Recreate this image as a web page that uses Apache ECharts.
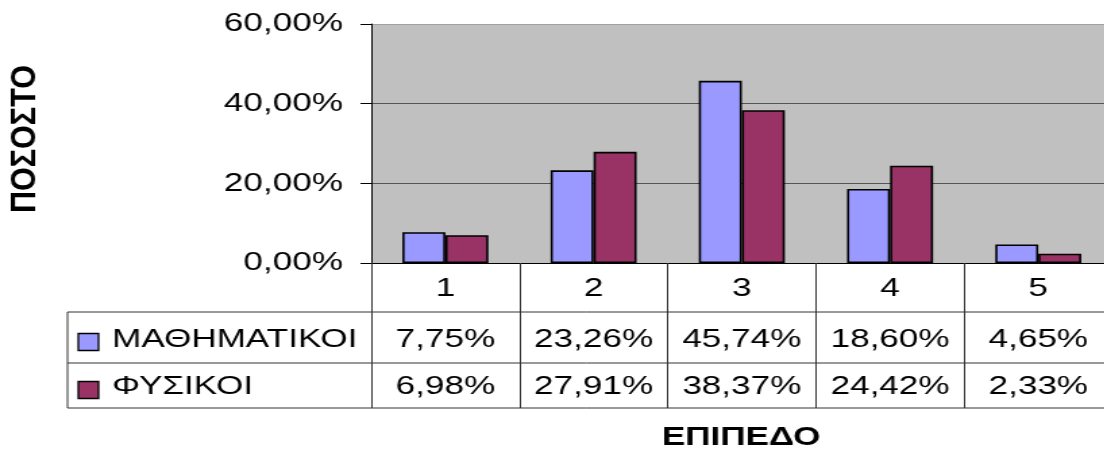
<!DOCTYPE html>
<html><head><meta charset="utf-8">
<script src="https://cdn.jsdelivr.net/npm/echarts@6/dist/echarts.min.js"></script>
<style>
html,body{margin:0;padding:0;overflow:hidden;background:#fff;}
#wrap{width:1104px;height:452px;overflow:hidden;}
#chart{width:818px;height:452px;transform:scaleX(1.35);transform-origin:0 0;}
</style></head><body><div id="wrap"><div id="chart"></div></div>
<script>
const categories = ['1', '2', '3', '4', '5'];
const seriesNames = ['ΜΑΘΗΜΑΤΙΚΟΙ', 'ΦΥΣΙΚΟΙ'];
const mathValues = [7.75, 23.26, 45.74, 18.60, 4.65];
const physValues = [6.98, 27.91, 38.37, 24.42, 2.33];
const yMin = 0, yMax = 60, yStep = 20;
const xTitle = 'ΕΠΙΠΕΔΟ';
const yTitle = 'ΠΟΣΟΣΤΟ';
const colors = ['#9999FF', '#993366'];

const FONT = '"Liberation Sans", Arial, sans-serif';
const fmt = v => v.toFixed(2).replace('.', ',') + '%';

const chart = echarts.init(document.getElementById('chart'), null, {renderer: 'canvas'});
const GRID_TOP = 24, AXIS_Y = 263, ROW1 = 312, ROW2 = 363, ROW3 = 408;
const TABLE_LEFT = 50;

chart.setOption({
  animation: false,
  grid: {left: 275, width: 549, top: GRID_TOP, bottom: 452 - AXIS_Y, show: true,
         outerBoundsMode: 'none', containLabel: false,
         backgroundColor: '#C0C0C0', borderWidth: 0},
  xAxis: {
    type: 'category', data: categories,
    axisLine: {show: true, lineStyle: {color: '#000', width: 1}},
    axisTick: {show: true, length: ROW3 - AXIS_Y, lineStyle: {color: '#333', width: 1}},
    axisLabel: {fontFamily: FONT, fontSize: 26, color: '#000', margin: 13, lineHeight: 26}
  },
  yAxis: {
    type: 'value', min: yMin, max: yMax, interval: yStep,
    axisLine: {show: true, lineStyle: {color: '#000', width: 1}},
    axisTick: {show: true, length: 8, lineStyle: {color: '#000'}},
    axisLabel: {fontFamily: FONT, fontSize: 26, color: '#000', margin: 21, formatter: v => fmt(v)},
    splitLine: {show: true, lineStyle: {color: ['#000', '#555', '#555', '#a0a0a0'], width: 1}}
  },
  series: [
    {name: seriesNames[0], type: 'bar', data: mathValues, barGap: '0%', barCategoryGap: '42%',
     itemStyle: {color: colors[0], borderColor: '#000', borderWidth: 1.6}},
    {name: seriesNames[1], type: 'bar', data: physValues, barGap: '0%', barCategoryGap: '42%',
     itemStyle: {color: colors[1], borderColor: '#000', borderWidth: 1.6}}
  ]
});

const centers = categories.map((c, i) => chart.convertToPixel({xAxisIndex: 0}, i));
const band = centers[1] - centers[0];
const rightEnd = centers[centers.length - 1] + band / 2;
const lineStyle = {stroke: '#333', lineWidth: 1};
const g = [];
[ROW1, ROW2, ROW3].forEach(y => g.push({type: 'line', shape: {x1: TABLE_LEFT, y1: y, x2: rightEnd, y2: y}, style: lineStyle, silent: true}));
g.push({type: 'line', shape: {x1: TABLE_LEFT, y1: ROW1, x2: TABLE_LEFT, y2: ROW3}, style: lineStyle, silent: true});
const rowCenters = [340, 387];
const keyCenters = [342, 390];
[mathValues, physValues].forEach((vals, r) => {
  vals.forEach((v, i) => g.push({type: 'text', x: centers[i], y: rowCenters[r],
    style: {text: fmt(v), fontFamily: FONT, fontSize: 26, fill: '#000', align: 'center', verticalAlign: 'middle'}, silent: true}));
  g.push({type: 'rect', shape: {x: 58, y: keyCenters[r] - 8.5, width: 15, height: 17},
    style: {fill: colors[r], stroke: '#000', lineWidth: 1.3}, silent: true});
  g.push({type: 'text', x: 83, y: rowCenters[r],
    style: {text: seriesNames[r], fontFamily: FONT, fontSize: 26, fill: '#000', align: 'left', verticalAlign: 'middle'}, silent: true});
});
g.push({type: 'text', x: 549, y: 438,
  style: {text: xTitle, fontFamily: FONT, fontSize: 26, fontWeight: 'bold', fill: '#000', align: 'center', verticalAlign: 'middle'}, silent: true});
g.push({type: 'text', x: 19.5, y: 139, rotation: Math.PI / 2, scaleX: 1.22,
  style: {text: yTitle, fontFamily: FONT, fontSize: 25, fontWeight: 'bold', fill: '#000', align: 'center', verticalAlign: 'middle'}, silent: true});
chart.setOption({graphic: g});
</script></body></html>
